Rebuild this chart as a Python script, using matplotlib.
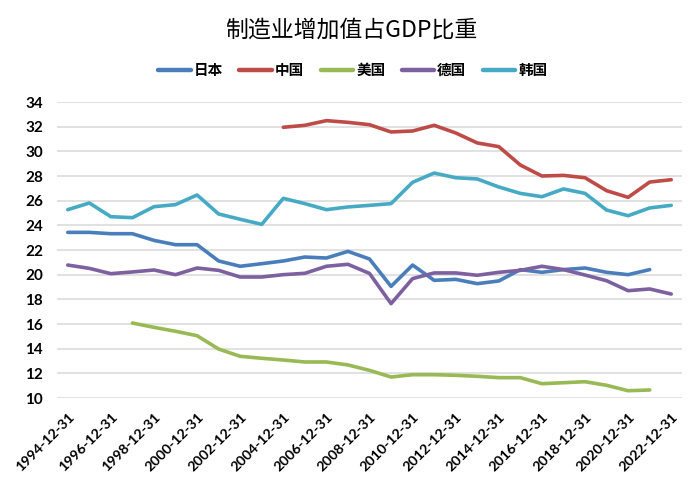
import numpy as np
import matplotlib
matplotlib.use("Agg")
import matplotlib.pyplot as plt

nan = np.nan
years = list(range(1994, 2023))
categories = [f"{y}-12-31" for y in years]

japan = [23.43, 23.43, 23.32, 23.32, 22.78, 22.43, 22.43, 21.11, 20.68, 20.89,
         21.11, 21.43, 21.35, 21.89, 21.27, 19.05, 20.78, 19.54, 19.62, 19.27,
         19.49, 20.41, 20.19, 20.41, 20.54, 20.19, 20.00, 20.41, nan]
china = [nan, nan, nan, nan, nan, nan, nan, nan, nan, nan,
         31.95, 32.11, 32.49, 32.35, 32.16, 31.57, 31.65, 32.11, 31.49, 30.68,
         30.38, 28.89, 28.00, 28.05, 27.86, 26.81, 26.27, 27.51, 27.70]
usa = [nan, nan, nan, 16.08, 15.73, 15.41, 15.05, 13.97, 13.38, 13.22,
       13.08, 12.92, 12.92, 12.68, 12.24, 11.70, 11.89, 11.89, 11.84, 11.76,
       11.65, 11.65, 11.16, 11.24, 11.32, 11.03, 10.59, 10.65, nan]
germany = [20.78, 20.51, 20.08, 20.22, 20.38, 20.00, 20.54, 20.35, 19.81, 19.81,
           20.00, 20.11, 20.68, 20.84, 20.10, 17.65, 19.68, 20.14, 20.14, 19.95,
           20.19, 20.35, 20.68, 20.41, 19.97, 19.51, 18.70, 18.84, 18.43]
korea = [25.27, 25.81, 24.70, 24.62, 25.51, 25.68, 26.46, 24.92, 24.49, 24.08,
         26.19, 25.76, 25.27, 25.49, 25.62, 25.76, 27.49, 28.24, 27.86, 27.76,
         27.11, 26.59, 26.32, 26.95, 26.59, 25.24, 24.78, 25.41, 25.62]

series_names = ["日本", "中国", "美国", "德国", "韩国"]
series_values = [japan, china, usa, germany, korea]
colors = ["#4A7EBB", "#BE4B48", "#98B954", "#7D60A0", "#46AAC5"]

y_ticks = list(range(10, 35, 2))

plt.rcParams['font.family'] = ['Lato', 'Noto Sans CJK SC', 'DejaVu Sans']

fig = plt.figure(figsize=(7.0, 4.82), dpi=100)
ax = fig.add_axes([57/700, 1 - 398/482, 625/700, 296/482])

x = np.arange(len(categories))
for name, vals, c in zip(series_names, series_values, colors):
    ax.plot(x, vals, color=c, lw=2.6, label=name, solid_capstyle='round',
            solid_joinstyle='round')

ax.set_xlim(-0.5, len(categories) - 0.5)
ax.set_ylim(10, 34)
ax.set_yticks(y_ticks)
ax.set_yticklabels([str(v) for v in y_ticks], fontsize=11, fontweight='bold')
ax.grid(axis='y', color='#D9D9D9', lw=1.1)
ax.set_axisbelow(True)
for s in ax.spines.values():
    s.set_visible(False)
ax.tick_params(axis='both', length=0)
ax.tick_params(axis='y', pad=10)

ax.set_xticks(x[::2])
ax.set_xticklabels(categories[::2], rotation=45, ha='right', va='top',
                   rotation_mode='anchor', fontsize=10.3, fontweight='bold')
ax.tick_params(axis='x', pad=9)

fig.text(351/700, 1 - 30/482, "制造业增加值占GDP比重", ha='center', va='center',
         fontsize=16.5, family=['Noto Sans CJK SC', 'DejaVu Sans'])

leg = fig.legend(loc='center', bbox_to_anchor=(353/700, 1 - 70/482), ncol=5,
                 frameon=False, prop={'family': ['Noto Sans CJK SC'], 'size': 10.5,
                                      'weight': 'bold'},
                 handlelength=2.2, handletextpad=0.25, columnspacing=1.1)
for line in leg.get_lines():
    line.set_linewidth(3.2)

fig.savefig("out.png", dpi=100)
